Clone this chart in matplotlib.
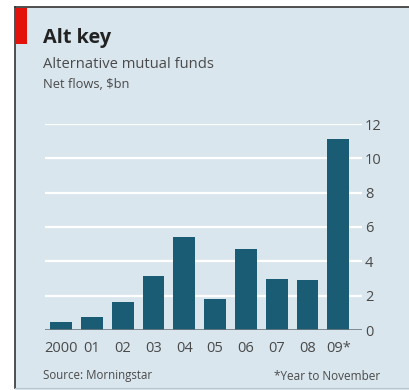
import matplotlib.pyplot as plt
from matplotlib.patches import Rectangle

years = ['2000', '01', '02', '03', '04', '05', '06', '07', '08', '09*']
flows = [0.45, 0.75, 1.65, 3.15, 5.4, 1.8, 4.7, 3.0, 2.9, 11.1]
yticks = [0, 2, 4, 6, 8, 10, 12]

bg = '#d9e6ee'
bar_col = '#1b5c75'
txt = '#4a4a4a'

plt.rcParams['font.family'] = ['Open Sans', 'DejaVu Sans']

fig = plt.figure(figsize=(4.1, 3.9), dpi=100)
fig.patch.set_facecolor('white')

# panel background with dark frame on top and left
fig.patches.append(Rectangle((15/410, 0), 1 - 15/410, 1 - 7/390, transform=fig.transFigure,
                             facecolor=bg, edgecolor='none', zorder=0))
fig.add_artist(plt.Line2D([15/410, 15/410], [2/390, 1 - 7/390], color='#333333', lw=1.2,
                          transform=fig.transFigure))
fig.add_artist(plt.Line2D([15/410, 1], [1 - 7/390, 1 - 7/390], color='#333333', lw=1.2,
                          transform=fig.transFigure))
fig.add_artist(plt.Line2D([15/410, 1], [2/390, 2/390], color='#b8c4cc', lw=0.8,
                          transform=fig.transFigure))
fig.patches.append(Rectangle((16/410, 1 - 44/390), 11/410, 36/390, transform=fig.transFigure,
                             facecolor='#e3120b', edgecolor='none', zorder=1))

ax = fig.add_axes([45/410, 1 - 330/390, 317/410, 206/390])
ax.set_zorder(3)
ax.set_facecolor('none')
x = range(len(years))
ax.bar(x, flows, width=0.71, color=bar_col, zorder=3)
ax.set_xlim(-0.52, 9.77)
ax.set_ylim(0, 12)
for t in yticks[1:]:
    ax.axhline(t, color='white', lw=1.6, zorder=1)
ax.axhline(0, color='#6f7a80', lw=1.2, zorder=4)
for s in ax.spines.values():
    s.set_visible(False)
ax.yaxis.tick_right()
ax.set_yticks(yticks)
ax.set_yticklabels([str(t) for t in yticks])
ax.tick_params(axis='y', length=0, pad=2, labelsize=10.5, labelcolor=txt)
ax.set_xticks(list(x))
ax.set_xticklabels(years)
ax.tick_params(axis='x', length=0, pad=8, labelsize=10.5, labelcolor=txt)

fig.text(43/410, 1 - 38/390, 'Alt key', fontsize=14.3, fontweight='bold', color='#222222', va='center')
fig.text(43/410, 1 - 65/390, 'Alternative mutual funds', fontsize=10.6, color=txt, va='center')
fig.text(43/410, 1 - 85/390, 'Net flows, $bn', fontsize=9.3, color=txt, va='center')
fig.text(43/410, 1 - 376/390, 'Source: Morningstar', fontsize=8.3, color=txt, va='center')
fig.text(380/410, 1 - 376/390, '*Year to November', fontsize=8.5, color=txt, va='center', ha='right')

fig.savefig('out.png', dpi=100, facecolor=fig.get_facecolor())
